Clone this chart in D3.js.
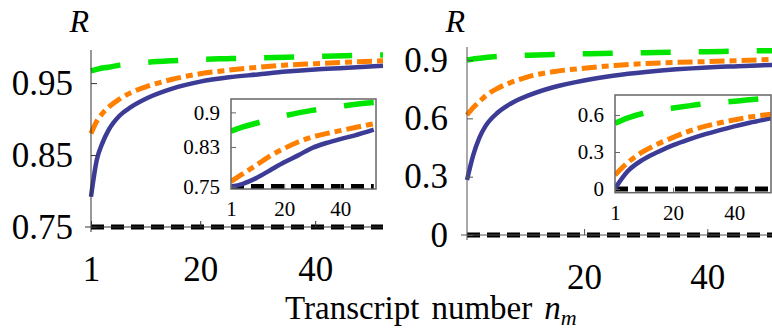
<!DOCTYPE html>
<html>
<head>
<meta charset="utf-8">
<script src="https://cdn.jsdelivr.net/npm/d3@7"></script>
<style>
  body { margin: 0; background: #fff; }
  svg { display: block; }
  text { font-family: "Times New Roman", "Liberation Serif", Tinos, Times, serif; fill: #000; }
</style>
</head>
<body>
<div id="chart"></div>
<script>
// transcript numbers sampled for the main panels and the insets
const nMain = [1, 2, 3, 4, 6, 8, 11, 15, 20, 25, 30, 35, 40, 45, 51.8];
const nInset = [1, 5, 10, 15, 20, 25, 30, 35, 40, 45, 52];

// left main panel
const leftBlue   = [0.792, 0.843, 0.867, 0.884, 0.905, 0.917, 0.930, 0.942, 0.952, 0.958, 0.962, 0.966, 0.969, 0.971, 0.974];
const leftOrange = [0.880, 0.897, 0.908, 0.916, 0.928, 0.937, 0.946, 0.955, 0.963, 0.968, 0.972, 0.975, 0.977, 0.979, 0.981];
const leftGreen  = [0.967, 0.969, 0.971, 0.972, 0.975, 0.977, 0.979, 0.981, 0.983, 0.984, 0.985, 0.986, 0.987, 0.988, 0.989];
const leftBlack  = nMain.map(() => 0.75);

// right main panel
const rightBlue   = [0.283, 0.41, 0.50, 0.56, 0.63, 0.674, 0.718, 0.76, 0.795, 0.82, 0.838, 0.852, 0.862, 0.868, 0.876];
const rightOrange = [0.617, 0.655, 0.685, 0.715, 0.755, 0.783, 0.815, 0.84, 0.858, 0.872, 0.882, 0.888, 0.892, 0.897, 0.905];
const rightGreen  = [0.900, 0.905, 0.909, 0.913, 0.918, 0.921, 0.925, 0.929, 0.932, 0.935, 0.938, 0.941, 0.943, 0.946, 0.948];
const rightBlack  = nMain.map(() => 0);

// left inset
const insetLBlue   = [0.750, 0.755, 0.767, 0.783, 0.799, 0.813, 0.828, 0.838, 0.846, 0.853, 0.865];
const insetLOrange = [0.760, 0.775, 0.793, 0.812, 0.827, 0.840, 0.850, 0.857, 0.863, 0.869, 0.877];
const insetLGreen  = [0.862, 0.870, 0.878, 0.886, 0.893, 0.899, 0.904, 0.908, 0.912, 0.916, 0.920];
const insetLBlack  = nInset.map(() => 0.75);

// right inset
const insetRBlue   = [0.005, 0.14, 0.236, 0.30, 0.355, 0.40, 0.44, 0.475, 0.508, 0.537, 0.573];
const insetROrange = [0.113, 0.21, 0.30, 0.365, 0.418, 0.468, 0.505, 0.535, 0.56, 0.583, 0.606];
const insetRGreen  = [0.533, 0.575, 0.612, 0.637, 0.656, 0.674, 0.69, 0.701, 0.711, 0.724, 0.738];
const insetRBlack  = nInset.map(() => 0);

// tick labels
const leftYTicks = [0.75, 0.85, 0.95];
const rightYTicks = [0, 0.3, 0.6, 0.9];
const leftXTicks = [1, 20, 40];
const rightXTicks = [20, 40];
const insetLYTicks = [0.75, 0.83, 0.9];
const insetRYTicks = [0, 0.3, 0.6];
const insetXTicks = [1, 20, 40];

const serif = '"Times New Roman", "Liberation Serif", Tinos, Times, serif';

const styles = {
  black:  { color: '#000', width: 5, dash: '13,7' },
  blue:   { color: '#3c3c96', width: 4.5, dash: null },
  orange: { color: '#ff8000', width: 5, dash: '15,5,7,5' },
  green:  { color: '#00e600', width: 5.5, dash: '30,28' }
};

const svg = d3.select('#chart').append('svg')
  .attr('width', 772)
  .attr('height', 330);

let clipId = 0;

function drawPanel(o) {
  const x = d3.scaleLinear().domain(o.xDomain).range(o.xRange);
  const y = d3.scaleLinear().domain(o.yDomain).range(o.yRange);
  const g = svg.append('g');

  if (o.frame) {
    g.append('rect')
      .attr('x', o.xRange[0]).attr('y', o.yRange[1])
      .attr('width', o.xRange[1] - o.xRange[0])
      .attr('height', o.yRange[0] - o.yRange[1])
      .attr('fill', '#fff');
  }

  const id = 'clip' + (clipId++);
  g.append('clipPath').attr('id', id).append('rect')
    .attr('x', o.xRange[0]).attr('y', o.yRange[1])
    .attr('width', o.xRange[1] - o.xRange[0])
    .attr('height', o.yRange[0] - o.yRange[1]);

  const line = d3.line()
    .x((d, i) => x(o.n[i]))
    .y(d => y(d))
    .curve(d3.curveMonotoneX);

  const lines = g.append('g').attr('clip-path', o.frame ? 'url(#' + id + ')' : null);
  o.series.forEach(s => {
    const st = styles[s.style];
    lines.append('path')
      .datum(s.values)
      .attr('fill', 'none')
      .attr('stroke', st.color)
      .attr('stroke-width', st.width)
      .attr('stroke-dasharray', st.dash)
      .attr('d', line);
  });

  const yAxis = d3.axisLeft(y)
    .tickValues(o.yTicks)
    .tickFormat(d => String(d))
    .tickSizeInner(-o.tick)
    .tickSizeOuter(0)
    .tickPadding(o.yPad);
  const xAxis = d3.axisBottom(x)
    .tickValues(o.xTicks)
    .tickFormat(d => String(d))
    .tickSizeInner(-o.tick)
    .tickSizeOuter(0)
    .tickPadding(o.xPad);

  const ya = g.append('g')
    .attr('transform', 'translate(' + o.xRange[0] + ',0)')
    .call(yAxis);
  const xa = g.append('g')
    .attr('transform', 'translate(0,' + o.yRange[0] + ')')
    .call(xAxis);

  [ya, xa].forEach(a => {
    a.attr('font-family', serif);
    a.select('.domain').remove();
    a.selectAll('.tick line').attr('stroke', o.axisColor).attr('stroke-width', 1);
    a.selectAll('.tick text')
      .style('font-family', serif)
      .attr('font-size', o.font)
      .attr('fill', '#000');
  });

  if (o.frame) {
    g.append('rect')
      .attr('x', o.xRange[0]).attr('y', o.yRange[1])
      .attr('width', o.xRange[1] - o.xRange[0])
      .attr('height', o.yRange[0] - o.yRange[1])
      .attr('fill', 'none')
      .attr('stroke', o.axisColor)
      .attr('stroke-width', 1.5);
  } else {
    // axes lines crossing at the origin
    g.append('line')
      .attr('x1', o.xRange[0]).attr('x2', o.xRange[0])
      .attr('y1', o.yRange[1]).attr('y2', o.yRange[0] + 5)
      .attr('stroke', o.axisColor).attr('stroke-width', 1);
    g.append('line')
      .attr('x1', o.xRange[0] - 6).attr('x2', o.xRange[1])
      .attr('y1', o.yRange[0]).attr('y2', o.yRange[0])
      .attr('stroke', o.axisColor).attr('stroke-width', 1);
    g.append('text')
      .attr('x', o.xRange[0] - 2)
      .attr('y', 32)
      .attr('text-anchor', 'end')
      .attr('font-size', 32)
      .attr('font-style', 'italic')
      .style('font-family', serif)
      .text('R');
  }
  return g;
}

// main panels
drawPanel({
  n: nMain, xDomain: [1, 51.8], xRange: [91, 383],
  yDomain: [0.75, 0.996], yRange: [227, 50],
  yTicks: leftYTicks, xTicks: leftXTicks, tick: 6, font: 35, yPad: 18, xPad: 29,
  axisColor: '#333', frame: false,
  series: [
    { values: leftBlack, style: 'black' },
    { values: leftBlue, style: 'blue' },
    { values: leftOrange, style: 'orange' },
    { values: leftGreen, style: 'green' }
  ]
});

drawPanel({
  n: nMain, xDomain: [1, 51.8], xRange: [467, 780],
  yDomain: [0, 0.967], yRange: [235, 47],
  yTicks: rightYTicks, xTicks: rightXTicks, tick: 6, font: 35, yPad: 19, xPad: 29,
  axisColor: '#555', frame: false,
  series: [
    { values: rightBlack, style: 'black' },
    { values: rightBlue, style: 'blue' },
    { values: rightOrange, style: 'orange' },
    { values: rightGreen, style: 'green' }
  ]
});

// insets
drawPanel({
  n: nInset, xDomain: [1, 52.8], xRange: [231, 376],
  yDomain: [0.745, 0.927], yRange: [189, 99],
  yTicks: insetLYTicks, xTicks: insetXTicks, tick: 5, font: 21, yPad: 11, xPad: 12,
  axisColor: '#666', frame: true,
  series: [
    { values: insetLBlack, style: 'black' },
    { values: insetLBlue, style: 'blue' },
    { values: insetLOrange, style: 'orange' },
    { values: insetLGreen, style: 'green' }
  ]
});

drawPanel({
  n: nInset, xDomain: [1, 52], xRange: [615, 771],
  yDomain: [-0.03, 0.762], yRange: [192.7, 95],
  yTicks: insetRYTicks, xTicks: insetXTicks, tick: 5, font: 21, yPad: 11, xPad: 12,
  axisColor: '#666', frame: true,
  series: [
    { values: insetRBlack, style: 'black' },
    { values: insetRBlue, style: 'blue' },
    { values: insetROrange, style: 'orange' },
    { values: insetRGreen, style: 'green' }
  ]
});

// shared x-axis title
const title = svg.append('text')
  .attr('x', 285)
  .attr('y', 319)
  .attr('font-size', 33)
  .style('font-family', serif);
title.append('tspan').text('Transcript');
title.append('tspan').attr('dx', 12).text('number');
title.append('tspan').attr('dx', 12).attr('font-style', 'italic').text('n');
title.append('tspan').attr('font-style', 'italic').attr('font-size', 22).attr('dy', 6).text('m');
</script>
</body>
</html>
